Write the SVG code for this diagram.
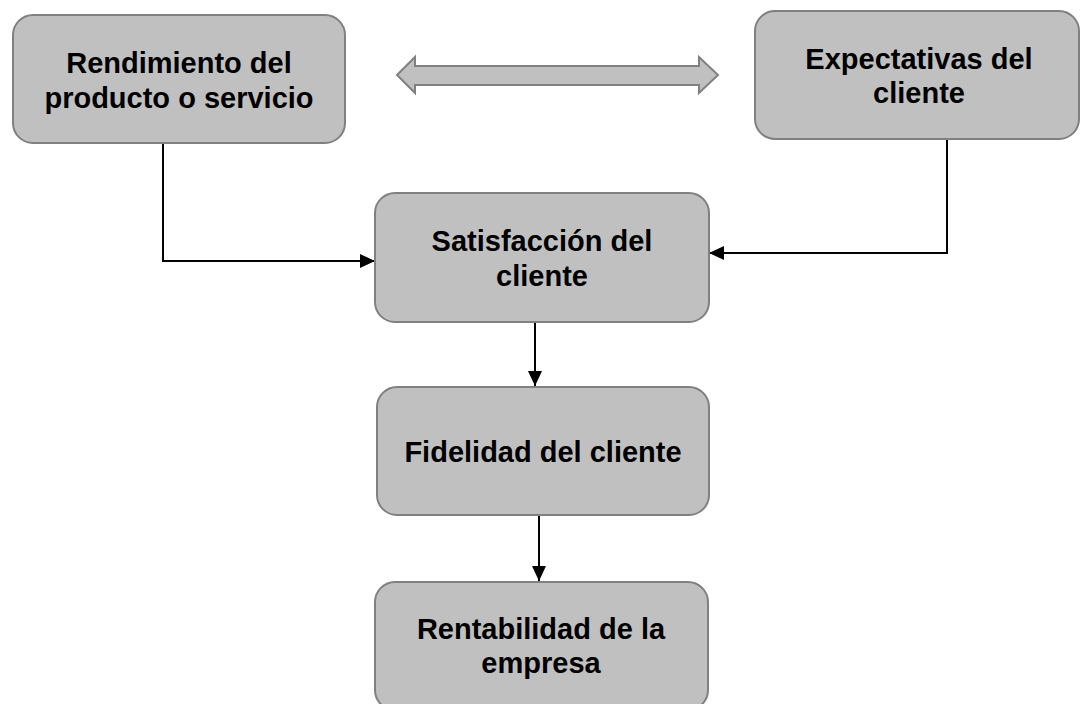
<svg xmlns="http://www.w3.org/2000/svg" width="1081" height="704" viewBox="0 0 1081 704">
<style>
.box{fill:#c0c0c0;stroke:#808080;stroke-width:2}
.t{font-family:"Liberation Sans",Arial,sans-serif;font-weight:bold;font-size:29px;fill:#000;text-anchor:middle}
.c{fill:none;stroke:#000;stroke-width:2}
</style>
<defs>
<marker id="ah" markerUnits="userSpaceOnUse" markerWidth="16" markerHeight="14" viewBox="0 0 16 14" refX="15" refY="7" orient="auto">
<path d="M0,0 L15,7 L0,14 Z" fill="#000"/>
</marker>
</defs>
<rect width="1081" height="704" fill="#fff"/>
<g id="double-arrow">
<path d="M397,75 L415,57 L415,66 L699,66 L699,57 L718,75 L699,93 L699,85 L415,85 L415,93 Z" fill="#c0c0c0" stroke="#808080" stroke-width="2"/>
</g>
<g id="connectors">
<path class="c" d="M170,143 H163 V261 H375" marker-end="url(#ah)"/>
<path class="c" d="M947,139 V253 H709" marker-end="url(#ah)"/>
<path class="c" d="M535,322 V386" marker-end="url(#ah)"/>
<path class="c" d="M539,515 V581" marker-end="url(#ah)"/>
</g>
<g id="rendimiento">
<rect class="box" x="13" y="15" width="332" height="128" rx="20"/>
<text class="t" x="179" y="73">Rendimiento del</text>
<text class="t" x="179" y="107.5">producto o servicio</text>
</g>
<g id="expectativas">
<rect class="box" x="755" y="11" width="324" height="128" rx="20"/>
<text class="t" x="919" y="69">Expectativas del</text>
<text class="t" x="919" y="103">cliente</text>
</g>
<g id="satisfaccion">
<rect class="box" x="375" y="193" width="334" height="129" rx="20"/>
<text class="t" x="542" y="251">Satisfacción del</text>
<text class="t" x="542" y="285.5">cliente</text>
</g>
<g id="fidelidad">
<rect class="box" x="377" y="387" width="332" height="128" rx="20"/>
<text class="t" x="543" y="462">Fidelidad del cliente</text>
</g>
<g id="rentabilidad">
<rect class="box" x="375" y="582" width="333" height="128" rx="20"/>
<text class="t" x="541" y="638.5">Rentabilidad de la</text>
<text class="t" x="541" y="673">empresa</text>
</g>
</svg>
